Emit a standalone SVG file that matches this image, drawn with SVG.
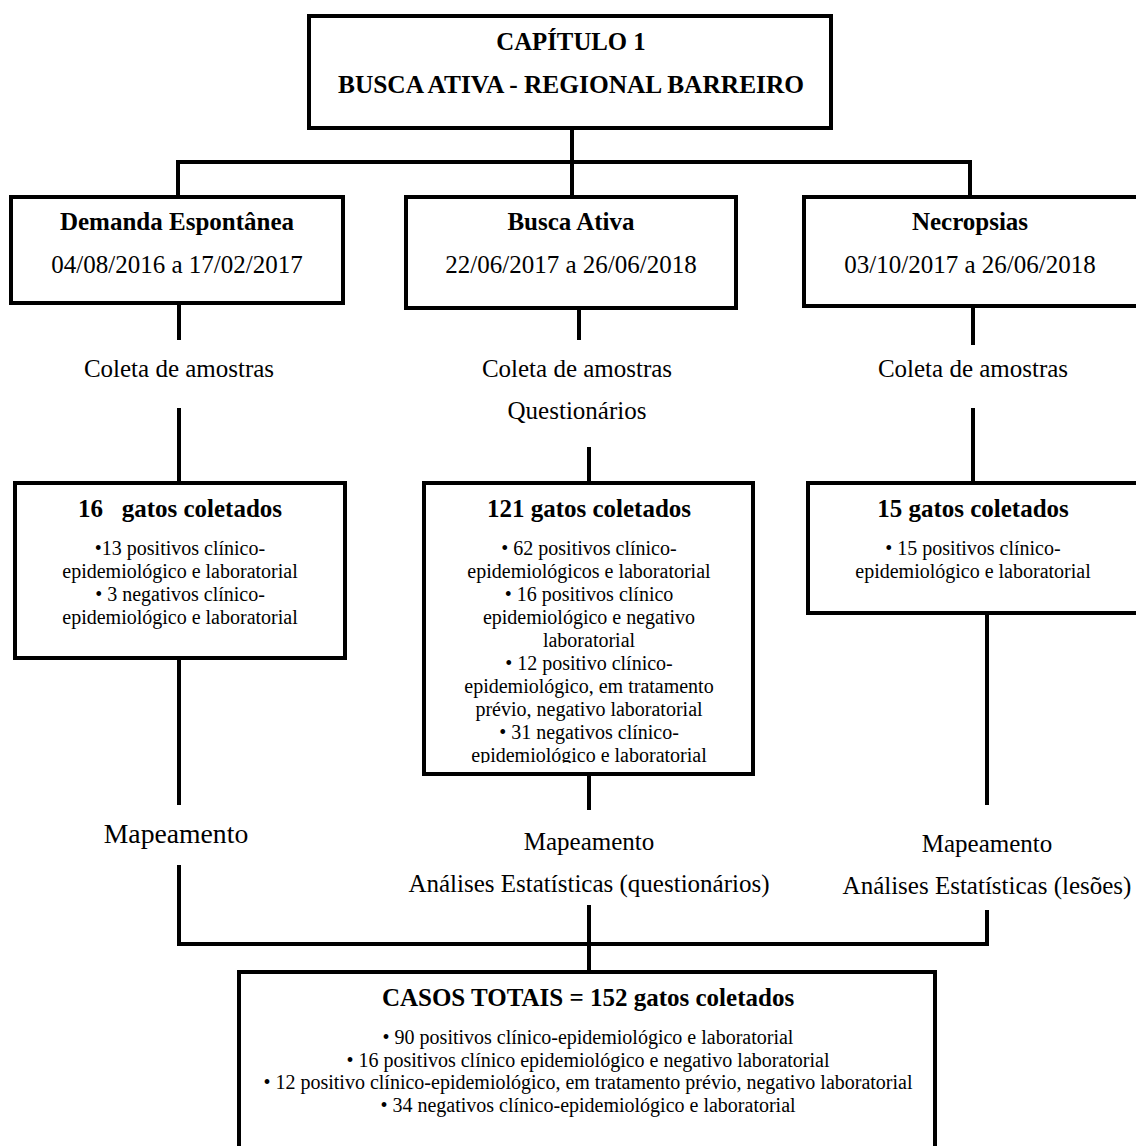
<svg xmlns="http://www.w3.org/2000/svg" width="1136" height="1146" viewBox="0 0 1136 1146">
<style>
.box{fill:#fff;stroke:#000;stroke-width:4}
.ln{stroke:#000;stroke-width:4;fill:none}
text{font-family:"Liberation Serif","Times New Roman",serif;fill:#000;text-anchor:middle}
.h{font-weight:bold;font-size:25px}
.t{font-size:25px}
.s{font-size:20px}
</style>
<defs>
<clipPath id="cc"><rect x="423" y="481" width="331" height="282"/></clipPath>
</defs>
<rect width="1136" height="1146" fill="#fff"/>
<g id="connectors">
<path class="ln" d="M572 128V162M178 162H970M178 160V197M572 160V197M970 160V197"/>
<path class="ln" d="M179 303V340M179 408V483"/>
<path class="ln" d="M579 308V340M589 447V483"/>
<path class="ln" d="M973 306V345M973 408V483"/>
<path class="ln" d="M179 658V805M179 865V944M589 775V810M589 905V970M987 613V805M987 910V944M177 944H989"/>
</g>
<g id="top">
<rect class="box" x="309" y="16" width="522" height="112"/>
<text class="h" x="571" y="50" style="font-size:24.8px">CAPÍTULO 1</text>
<text class="h" x="571" y="93" style="font-size:25.4px">BUSCA ATIVA - REGIONAL BARREIRO</text>
</g>
<g id="demanda">
<rect class="box" x="11" y="197" width="332" height="106"/>
<text class="h" x="177" y="230">Demanda Espontânea</text>
<text class="t" x="177" y="273">04/08/2016 a 17/02/2017</text>
</g>
<g id="busca">
<rect class="box" x="406" y="197" width="330" height="111"/>
<text class="h" x="571" y="230">Busca Ativa</text>
<text class="t" x="571" y="273">22/06/2017 a 26/06/2018</text>
</g>
<g id="necropsias">
<rect class="box" x="804" y="197" width="336" height="109"/>
<text class="h" x="970" y="230">Necropsias</text>
<text class="t" x="970" y="273">03/10/2017 a 26/06/2018</text>
</g>
<g id="coleta1"><text class="t" x="179" y="377">Coleta de amostras</text></g>
<g id="coleta2">
<text class="t" x="577" y="377">Coleta de amostras</text>
<text class="t" x="577" y="419">Questionários</text>
</g>
<g id="coleta3"><text class="t" x="973" y="377">Coleta de amostras</text></g>
<g id="gatos16">
<rect class="box" x="15" y="483" width="330" height="175"/>
<text class="h" x="180" y="517" xml:space="preserve">16   gatos coletados</text>
<text class="s" x="180" y="555">•13 positivos clínico-</text>
<text class="s" x="180" y="578">epidemiológico e laboratorial</text>
<text class="s" x="180" y="601">• 3 negativos clínico-</text>
<text class="s" x="180" y="624">epidemiológico e laboratorial</text>
</g>
<g id="gatos121">
<rect class="box" x="424" y="483" width="329" height="291"/>
<text class="h" x="589" y="517">121 gatos coletados</text>
<g clip-path="url(#cc)">
<text class="s" x="589" y="555">• 62 positivos clínico-</text>
<text class="s" x="589" y="578">epidemiológicos e laboratorial</text>
<text class="s" x="589" y="601">• 16 positivos clínico</text>
<text class="s" x="589" y="624">epidemiológico e negativo</text>
<text class="s" x="589" y="647">laboratorial</text>
<text class="s" x="589" y="670">• 12 positivo clínico-</text>
<text class="s" x="589" y="693">epidemiológico, em tratamento</text>
<text class="s" x="589" y="716">prévio, negativo laboratorial</text>
<text class="s" x="589" y="739">• 31 negativos clínico-</text>
<text class="s" x="589" y="762">epidemiológico e laboratorial</text>
</g>
</g>
<g id="gatos15">
<rect class="box" x="808" y="483" width="332" height="130"/>
<text class="h" x="973" y="517">15 gatos coletados</text>
<text class="s" x="973" y="555">• 15 positivos clínico-</text>
<text class="s" x="973" y="578">epidemiológico e laboratorial</text>
</g>
<g id="map1"><text x="176" y="843" style="font-size:27.7px">Mapeamento</text></g>
<g id="map2">
<text class="t" x="589" y="850">Mapeamento</text>
<text class="t" x="589" y="892">Análises Estatísticas (questionários)</text>
</g>
<g id="map3">
<text class="t" x="987" y="852">Mapeamento</text>
<text class="t" x="987" y="894">Análises Estatísticas (lesões)</text>
</g>
<g id="total">
<rect class="box" x="239" y="972" width="696" height="180"/>
<text class="h" x="588" y="1006">CASOS TOTAIS = 152 gatos coletados</text>
<text class="s" x="588" y="1044">• 90 positivos clínico-epidemiológico e laboratorial</text>
<text class="s" x="588" y="1067">• 16 positivos clínico epidemiológico e negativo laboratorial</text>
<text class="s" x="588" y="1089">• 12 positivo clínico-epidemiológico, em tratamento prévio, negativo laboratorial</text>
<text class="s" x="588" y="1112">• 34 negativos clínico-epidemiológico e laboratorial</text>
</g>
</svg>
